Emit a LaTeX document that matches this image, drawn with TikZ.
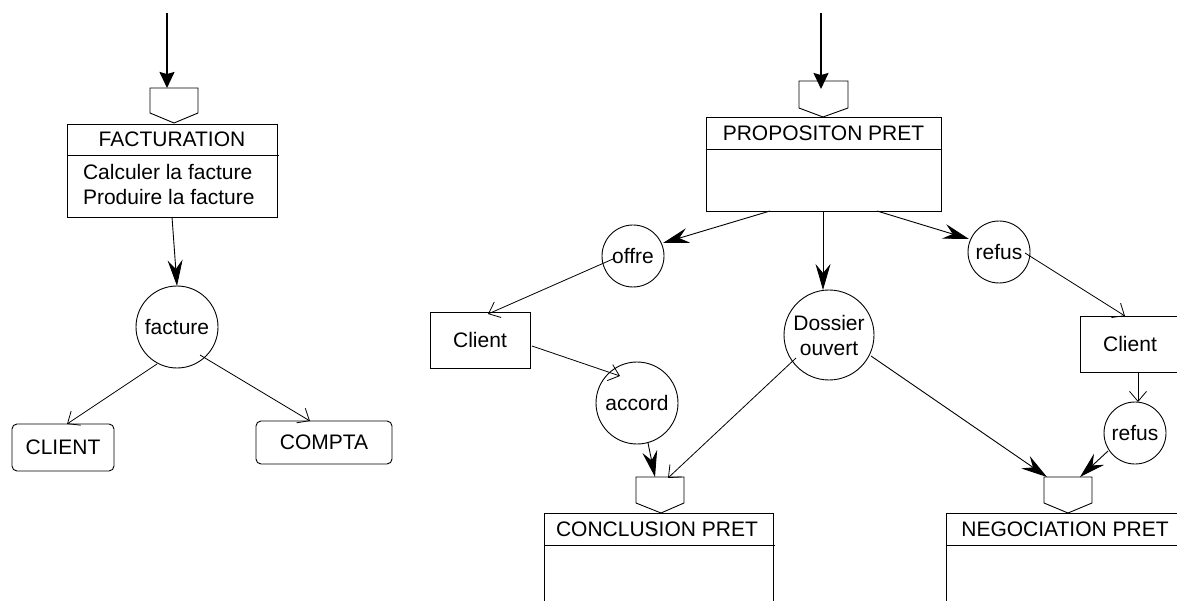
\documentclass[tikz,border=0pt]{standalone}
\usepackage{fontspec}
\setmainfont{Liberation Sans}
\usetikzlibrary{arrows.meta}
\begin{document}
\begin{tikzpicture}[x=1pt,y=-1pt,
  font=\fontsize{21}{24}\selectfont,
  thin line/.style={line width=0.9pt},
  box/.style={draw, line width=0.9pt, inner sep=0pt, outer sep=0pt, anchor=north west},
  rbox/.style={box, rounded corners=5pt},
  bubble/.style={draw, circle, line width=0.9pt, inner sep=0pt, outer sep=0pt},
  lbl/.style={inner sep=0pt, outer sep=0pt},
  bigarrow/.style={line width=1.6pt, -{Stealth[length=16pt,width=15pt,inset=2pt]}},
  flowarrow/.style={line width=0.9pt, -{Stealth[length=26pt,width=15pt,inset=9pt]}},
  openarrow/.style={line width=0.8pt, -{Straight Barb[length=10pt,width=17pt,line width=0.8pt]}},
  pent/.style={draw, line width=0.9pt, line join=miter}
]
\useasboundingbox (0,0) rectangle (1177,601);
\clip (0,0) rectangle (1177,601);

% ---------------- LEFT : FACTURATION ----------------
\coordinate (srcA) at (167,13);
\coordinate (pAin) at (167,88);
\draw[pent] (150,88) -- (198,88) -- (198,113) -- (174,123) -- (150,113) -- cycle;
\node[box, minimum width=210pt, minimum height=93pt] (fact) at (67,124) {};
\draw[thin line] (67,155) -- (279,155);
\node[lbl] (factT) at (172,139) {FACTURATION};
\node[lbl, anchor=west] (factL1) at (83,172) {Calculer la facture};
\node[lbl, anchor=west] (factL2) at (83,197) {Produire la facture};

\node[bubble, minimum size=82pt] (facture) at (177,327) {facture};
\node[rbox, minimum width=102pt, minimum height=47pt] (client) at (12,424) {CLIENT};
\node[rbox, minimum width=136pt, minimum height=43pt] (compta) at (256,421) {COMPTA};

\coordinate (fA) at (157,364);
\coordinate (fB) at (200,355);
\coordinate (clientIn) at (67,424);
\coordinate (comptaIn) at (310,421);

\draw[bigarrow] (srcA) -- (pAin);
\draw[flowarrow] (fact.south) -- (facture.north);
\draw[openarrow] (fA) -- (clientIn);
\draw[openarrow] (fB) -- (comptaIn);

% ---------------- RIGHT : PROPOSITON PRET ----------------
\coordinate (srcB) at (821,13);
\coordinate (pBin) at (821,89);
\draw[pent] (799,81) -- (848,81) -- (848,108) -- (823,117) -- (799,108) -- cycle;
\node[box, minimum width=235pt, minimum height=94pt] (prop) at (706,117) {};
\draw[thin line] (706,149) -- (942,149);
\node[lbl] (propT) at (823.5,133) {PROPOSITON PRET};

\node[bubble, minimum size=62pt] (offre) at (633,256) {offre};
\node[bubble, minimum size=62pt] (refusA) at (999,252) {refus};
\node[bubble, minimum size=90pt, align=center, font=\fontsize{21}{25}\selectfont] (dossier) at (829,335) {Dossier\\ouvert};
\node[box, minimum width=100pt, minimum height=56pt] (clientA) at (430,312) {Client};
\node[bubble, minimum size=82pt] (accord) at (637,403) {accord};
\node[box, minimum width=100pt, minimum height=56pt] (clientB) at (1080,316) {Client};
\node[bubble, minimum size=62pt] (refusB) at (1135,433) {refus};

% conclusion
\draw[pent] (636,477) -- (684,477) -- (684,503) -- (661,513) -- (636,503) -- cycle;
\draw[thin line] (544,610) -- (544,513) -- (773,513) -- (773,610);
\draw[thin line] (544,545) -- (775,545);
\node[lbl] (concl) at (657,529) {CONCLUSION PRET};

% negociation
\draw[pent] (1044,477) -- (1092,477) -- (1092,503) -- (1068,513) -- (1044,503) -- cycle;
\draw[thin line] (946,610) -- (946,513) -- (1190,513);
\draw[thin line] (946,545) -- (1190,545);
\node[lbl] (nego) at (1065,529) {NEGOCIATION PRET};

% connector ends
\coordinate (propL) at (770,211);
\coordinate (propR) at (877,211);
\coordinate (propM) at (823,211);
\coordinate (offreIn) at (663,243);
\coordinate (refusAIn) at (969,239);
\coordinate (dossierIn) at (823,290);
\coordinate (offreOut) at (613,259);
\coordinate (clientAIn) at (488,314);
\coordinate (clientAOut) at (532,346);
\coordinate (accordIn) at (620,376);
\coordinate (accordOut) at (648,443);
\coordinate (pCinA) at (655,477);
\coordinate (dosOutA) at (796,358);
\coordinate (pCinB) at (668,478);
\coordinate (dosOutB) at (871,356);
\coordinate (pDinA) at (1047,477);
\coordinate (refusBOut) at (1108,451);
\coordinate (pDinB) at (1080,477);
\coordinate (refusAOut) at (1025,253);
\coordinate (clientBIn) at (1125,316);
\coordinate (clientBOut) at (1138,372);
\coordinate (refusBIn) at (1138,402);

\draw[bigarrow] (srcB) -- (pBin);
\draw[flowarrow] (propL) -- (offreIn);
\draw[flowarrow] (propR) -- (refusAIn);
\draw[flowarrow] (propM) -- (dossierIn);
\draw[openarrow] (offreOut) -- (clientAIn);
\draw[openarrow] (clientAOut) -- (accordIn);
\draw[flowarrow] (accordOut) -- (pCinA);
\draw[openarrow] (dosOutA) -- (pCinB);
\draw[flowarrow] (dosOutB) -- (pDinA);
\draw[flowarrow] (refusBOut) -- (pDinB);
\draw[openarrow] (refusAOut) -- (clientBIn);
\draw[openarrow] (clientBOut) -- (refusBIn);
\end{tikzpicture}
\end{document}
